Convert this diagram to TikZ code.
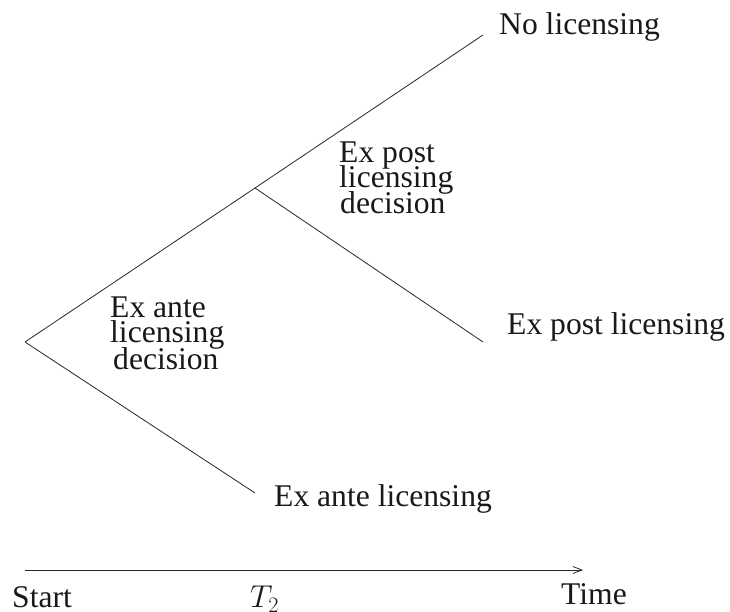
\documentclass[tikz,border=0pt]{standalone}
\usepackage{fix-cm}
\usepackage{fontspec}
\setmainfont{Liberation Serif}
\usetikzlibrary{arrows.meta}
\begin{document}
\begin{tikzpicture}[x=1pt,y=1pt,
  branch/.style={line width=0.8pt,draw=black!85},
  lbl/.style={anchor=base west,inner sep=0pt,font=\fontsize{31.6}{26}\selectfont,text=black!90}]
\useasboundingbox (0,0) rectangle (730,612);
% tree points
\coordinate (o) at (25,270);
\coordinate (b) at (255,424);
\coordinate (nl) at (483,577);
\coordinate (pl) at (483,270);
\coordinate (al) at (255,119);
\draw[branch] (o) -- (b) -- (nl);
\draw[branch] (b) -- (pl);
\draw[branch] (o) -- (al);
% end labels
\node[lbl] (tnl) at (499,577) {No licensing};
\node[lbl] (tpl) at (507,277) {Ex post licensing};
\node[lbl] (tal) at (274,105) {Ex ante licensing};
% decision labels
\node[lbl] (pd1) at (339,449) {Ex post};
\node[lbl] (pd2) at (339,424) {licensing};
\node[lbl] (pd3) at (340,398) {decision};
\node[lbl] (ad1) at (110,294) {Ex ante};
\node[lbl] (ad2) at (110,269) {licensing};
\node[lbl] (ad3) at (113,242) {decision};
% time axis
\coordinate (ts) at (25,42);
\coordinate (te) at (583,42);
\draw[branch,-{Straight Barb[length=9pt,width=7pt,line width=0.8pt]}] (ts) -- (te);
\node[lbl] (start) at (12,4) {Start};
\node[lbl] (t2) at (250,4) {$T_2$};
\node[lbl] (time) at (561,7) {Time};
\end{tikzpicture}
\end{document}
